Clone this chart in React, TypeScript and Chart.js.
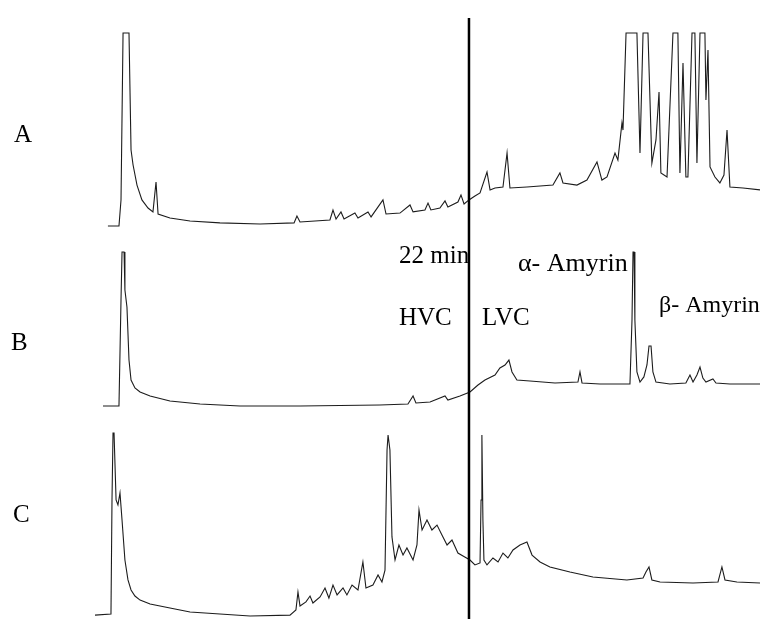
import React, { useEffect, useRef } from "react";
import { Chart, registerables } from "chart.js";

Chart.register(...registerables);

// Retention time (min) and detector response (% of full scale)
const aTime = [0.76, 1.41, 1.53, 1.65, 2.0, 2.12, 2.24, 2.47, 2.76, 3.12, 3.41, 3.59, 3.71, 4.41, 5.59, 7.35, 9.71, 11.71, 11.88, 12.06, 13.82, 14.0, 14.18, 14.47, 14.65, 15.29, 15.47, 16.06, 16.24, 16.94, 17.12, 17.94, 18.53, 18.71, 19.41, 19.59, 19.76, 20.29, 20.59, 20.76, 21.35, 21.53, 21.71, 22.0, 22.35, 22.65, 23.06, 23.24, 23.53, 24.0, 24.24, 24.41, 25.41, 26.94, 27.35, 27.53, 28.35, 28.94, 29.53, 29.82, 30.12, 30.59, 30.76, 31.0, 31.06, 31.24, 31.88, 32.06, 32.24, 32.53, 32.76, 33.0, 33.18, 33.29, 33.65, 34.0, 34.29, 34.41, 34.59, 34.76, 34.88, 35.12, 35.29, 35.41, 35.59, 35.88, 35.94, 36.06, 36.18, 36.47, 36.76, 37.0, 37.18, 37.35, 38.12, 39.12];
const aSignal = [0, 0, 13.5, 100, 100, 39.4, 31.6, 21.2, 13.5, 9.3, 7.3, 22.8, 6.2, 4.1, 2.6, 1.6, 1.0, 1.6, 5.2, 2.1, 3.1, 8.3, 3.6, 7.3, 3.6, 6.7, 4.1, 7.3, 4.7, 13.5, 6.2, 6.7, 10.9, 7.3, 8.3, 11.9, 8.3, 9.3, 13.0, 9.8, 12.4, 16.1, 11.4, 13.5, 15.5, 17.1, 28.0, 18.7, 19.7, 20.2, 37.8, 19.7, 20.2, 21.2, 27.5, 22.3, 21.2, 23.8, 33.2, 23.8, 25.4, 37.8, 34.2, 53.4, 49.7, 100, 100, 37.8, 100, 100, 32.6, 44.6, 69.4, 27.5, 25.4, 100, 100, 27.5, 84.5, 25.4, 25.4, 100, 100, 32.6, 100, 100, 65.3, 91.2, 30.6, 25.4, 22.3, 26.4, 49.7, 20.2, 19.7, 18.7];

const bTime = [0.47, 1.41, 1.53, 1.59, 1.71, 1.76, 1.88, 2.0, 2.12, 2.35, 2.65, 3.24, 4.41, 6.18, 8.53, 12.06, 16.76, 18.41, 18.71, 18.88, 19.71, 20.59, 20.76, 21.47, 22.06, 22.53, 22.94, 23.53, 23.82, 24.12, 24.35, 24.53, 24.82, 25.59, 27.06, 28.41, 28.53, 28.65, 29.71, 31.47, 31.59, 31.65, 31.71, 31.76, 31.88, 32.06, 32.29, 32.47, 32.59, 32.71, 32.82, 33.0, 33.82, 34.76, 35.0, 35.18, 35.41, 35.59, 35.76, 35.94, 36.35, 36.53, 37.35, 39.12];
const bSignal = [0.6, 0.6, 69.0, 100, 100, 75.5, 64.5, 30.3, 17.4, 12.3, 9.7, 7.1, 3.9, 1.9, 0.6, 0.6, 1.3, 1.9, 7.1, 2.6, 3.2, 7.1, 4.5, 7.1, 9.7, 14.2, 17.4, 20.6, 25.2, 27.1, 30.3, 22.6, 17.4, 16.8, 15.5, 16.1, 22.6, 15.5, 14.8, 14.8, 56.1, 100, 100, 56.1, 22.6, 16.1, 19.4, 27.1, 39.4, 39.4, 22.6, 16.1, 14.8, 15.5, 20.6, 16.1, 20.6, 25.8, 18.7, 16.1, 18.1, 15.5, 14.8, 14.8];

const cTime = [0, 0.94, 1.0, 1.06, 1.12, 1.24, 1.35, 1.47, 1.59, 1.76, 1.94, 2.12, 2.35, 2.65, 3.24, 4.41, 5.59, 7.35, 9.12, 11.47, 11.82, 11.94, 12.06, 12.41, 12.65, 12.82, 13.24, 13.53, 13.76, 14.0, 14.24, 14.59, 14.82, 15.12, 15.47, 15.76, 15.94, 16.35, 16.65, 16.88, 17.06, 17.18, 17.24, 17.35, 17.47, 17.65, 17.88, 18.12, 18.35, 18.71, 18.94, 19.06, 19.24, 19.53, 19.82, 20.12, 20.41, 20.71, 21.0, 21.35, 21.65, 22.06, 22.35, 22.65, 22.71, 22.76, 22.82, 22.88, 23.06, 23.41, 23.71, 24.0, 24.29, 24.59, 25.0, 25.41, 25.71, 26.18, 26.76, 27.94, 29.29, 31.29, 32.24, 32.41, 32.59, 32.76, 33.24, 35.18, 36.65, 36.88, 37.06, 37.76, 39.12];
const cSignal = [0.5, 1.1, 63.4, 100, 100, 63.4, 60.7, 67.2, 52.5, 30.6, 19.7, 14.2, 10.9, 8.7, 6.6, 4.4, 2.2, 1.1, 0, 0.5, 3.3, 13.1, 5.5, 7.7, 10.9, 7.1, 10.4, 15.3, 9.8, 16.9, 11.5, 15.3, 11.5, 16.9, 14.2, 29.5, 15.3, 16.9, 22.4, 18.6, 25.1, 90.7, 98.9, 90.7, 43.2, 30.6, 38.8, 33.3, 37.2, 30.6, 38.8, 57.9, 47.0, 52.5, 47.0, 49.7, 44.3, 38.8, 41.5, 34.4, 32.8, 30.6, 27.9, 29.0, 63.4, 98.9, 52.5, 30.6, 27.9, 31.7, 29.5, 34.4, 31.7, 36.1, 38.8, 40.4, 33.3, 29.5, 26.8, 24.0, 21.3, 19.7, 20.8, 24.0, 26.8, 19.7, 18.6, 18.0, 18.6, 26.8, 19.7, 18.6, 18.0];

const dividerTime = 22; // min, HVC | LVC cut
const timeRange = [0, 39.12];

const traceNames = ["A", "B", "C"];

// Layout (pixels)
const W = 760;
const H = 619;
const AREA_LEFT = 95;
const AREA_TOP = 18;
const AREA_BOTTOM = H;

function band(basePx: number, fullPx: number) {
  const ppu = (basePx - fullPx) / 100;
  const min = -(AREA_BOTTOM - basePx) / ppu;
  const max = min + (AREA_BOTTOM - AREA_TOP) / ppu;
  return { min, max };
}

function pts(t: number[], v: number[]) {
  return t.map((x, i) => ({ x, y: v[i] }));
}

const serif = '"Liberation Serif", "Times New Roman", Times, serif';

const labels: { text: string; left: number; top: number; size: number }[] = [
  { text: traceNames[0], left: 14, top: 121, size: 25 },
  { text: traceNames[1], left: 11, top: 329, size: 25 },
  { text: traceNames[2], left: 13, top: 501, size: 25 },
  { text: "22 min", left: 399, top: 242, size: 25 },
  { text: "HVC", left: 399, top: 304, size: 25 },
  { text: "LVC", left: 482, top: 304, size: 25 },
  { text: "α- Amyrin", left: 518, top: 250, size: 26 },
  { text: "β- Amyrin", left: 659, top: 292, size: 24 },
];

export default function App() {
  const ref = useRef<HTMLCanvasElement | null>(null);

  useEffect(() => {
    if (!ref.current) return;
    const line = "#1c1c1c";
    const common = {
      borderColor: line,
      borderWidth: 1.1,
      pointRadius: 0,
      tension: 0,
      fill: false,
    };
    const chart = new Chart(ref.current, {
      type: "line",
      data: {
        datasets: [
          {
            ...common,
            label: "divider",
            data: [
              { x: dividerTime, y: 0 },
              { x: dividerTime, y: 1 },
            ],
            yAxisID: "yLine",
            borderColor: "#000",
            borderWidth: 2.5,
          },
          { ...common, label: "A", data: pts(aTime, aSignal), yAxisID: "yA" },
          { ...common, label: "B", data: pts(bTime, bSignal), yAxisID: "yB" },
          { ...common, label: "C", data: pts(cTime, cSignal), yAxisID: "yC" },
        ],
      },
      options: {
        animation: false,
        responsive: false,
        parsing: true,
        layout: { padding: { left: AREA_LEFT, right: 0, top: AREA_TOP, bottom: 0 } },
        plugins: {
          legend: { display: false },
          tooltip: { enabled: false },
          title: { display: false },
        },
        scales: {
          x: { type: "linear", display: false, min: timeRange[0], max: timeRange[1] },
          yA: { type: "linear", display: false, ...band(226, 33) },
          yB: { type: "linear", display: false, ...band(407, 252) },
          yC: { type: "linear", display: false, ...band(616, 433) },
          yLine: { type: "linear", display: false, min: 0, max: 1 },
        },
      },
    });
    return () => chart.destroy();
  }, []);

  return (
    <div style={{ position: "absolute", left: 0, top: 0, width: W, height: H, background: "#fff" }}>
      <canvas ref={ref} width={W} height={H} style={{ display: "block", width: W, height: H }} />
      {labels.map((l) => (
        <span
          key={l.text}
          style={{
            position: "absolute",
            left: l.left,
            top: l.top,
            fontFamily: serif,
            fontSize: l.size,
            lineHeight: 1,
            color: "#000",
            whiteSpace: "nowrap",
          }}
        >
          {l.text}
        </span>
      ))}
    </div>
  );
}
